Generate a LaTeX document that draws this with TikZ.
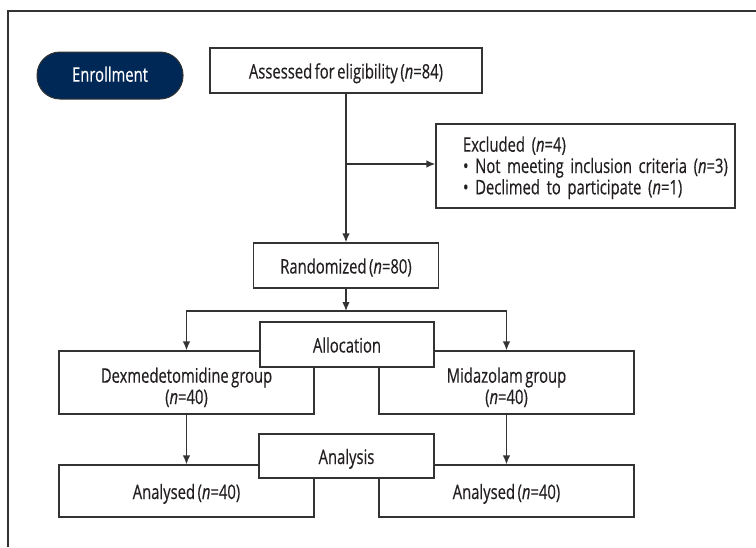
\documentclass[tikz,border=0pt]{standalone}
\usepackage{fontspec}
\setmainfont{Open Sans}[FakeStretch=0.74, FakeBold=0.35, WordSpace=0.65]
\usetikzlibrary{arrows.meta}
\definecolor{navy}{HTML}{002856}
\definecolor{linegray}{HTML}{333333}
\definecolor{ink}{HTML}{231F20}
\begin{document}
\begin{tikzpicture}[x=1pt,y=-1pt,
  txt/.style={font=\fontsize{20}{21.3}\selectfont, text=ink},
  box/.style={txt, draw=linegray, line width=1.3pt, fill=white, inner sep=0pt, align=center},
  one/.style={text height=16pt, text depth=0pt},
  two/.style={text height=43pt, text depth=0pt},
  pill/.style={draw=linegray, line width=1pt, fill=navy, rounded corners=23pt, inner sep=0pt,
     minimum width=146pt, minimum height=47pt, font=\fontsize{20}{21.3}\selectfont, text=white,
     text height=12.4pt, text depth=0pt},
  arr/.style={draw=linegray, line width=1.3pt, -{Latex[length=9pt,width=7.5pt]}},
  frameline/.style={draw=linegray, line width=1.3pt}]
\useasboundingbox (0,0) rectangle (756,547);
\draw[frameline] (8,547) -- (8,11) -- (756,11);

\node[pill] (enroll) at (110,75.5) {Enrollment};
\node[box, one, minimum width=272pt, minimum height=45pt] (assess) at (346,70.5) {Assessed for eligibility (\textit{n}=84)};
\node[box, minimum width=299pt, minimum height=84pt, text width=245pt, inner xsep=27pt, align=left,
      text height=13pt, text depth=41.6pt] (excl) at (585.5,166)
  {\mbox{Excluded (\textit{n}=4)}\\ \mbox{• Not meeting inclusion criteria (\textit{n}=3)}\\ \mbox{• Declimed to participate (\textit{n}=1)}};
\node[box, one, minimum width=185pt, minimum height=45pt] (rand) at (346,265.5) {Randomized (\textit{n}=80)};

\node[box, two, minimum width=255pt, minimum height=63pt] (dex) at (186.5,382.5) {Dexmedetomidine group\\(\textit{n}=40)};
\node[box, two, minimum width=255pt, minimum height=63pt] (mid) at (506.5,382.5) {Midazolam group\\(\textit{n}=40)};
\node[box, one, minimum width=255pt, minimum height=52pt] (resL) at (186.5,491) {Analysed (\textit{n}=40)};
\node[box, one, minimum width=255pt, minimum height=52pt] (resR) at (506.5,491) {Analysed (\textit{n}=40)};

\coordinate (branch) at (346,164);
\coordinate (split) at (346,311);
\draw[arr] (assess.south) -- (rand.north);
\draw[arr] (branch) -- (excl.west |- branch);
\draw[arr] (rand.south) -- (split);
\draw[arr] (split) -| (dex.north);
\draw[arr] (split) -| (mid.north);
\draw[arr] (dex.south) -- (resL.north);
\draw[arr] (mid.south) -- (resR.north);

\node[box, one, minimum width=174pt, minimum height=45pt] (alloc) at (347,344.5) {Allocation};
\node[box, one, minimum width=175pt, minimum height=44pt] (anal) at (346.5,456) {Analysis};
\end{tikzpicture}
\end{document}
